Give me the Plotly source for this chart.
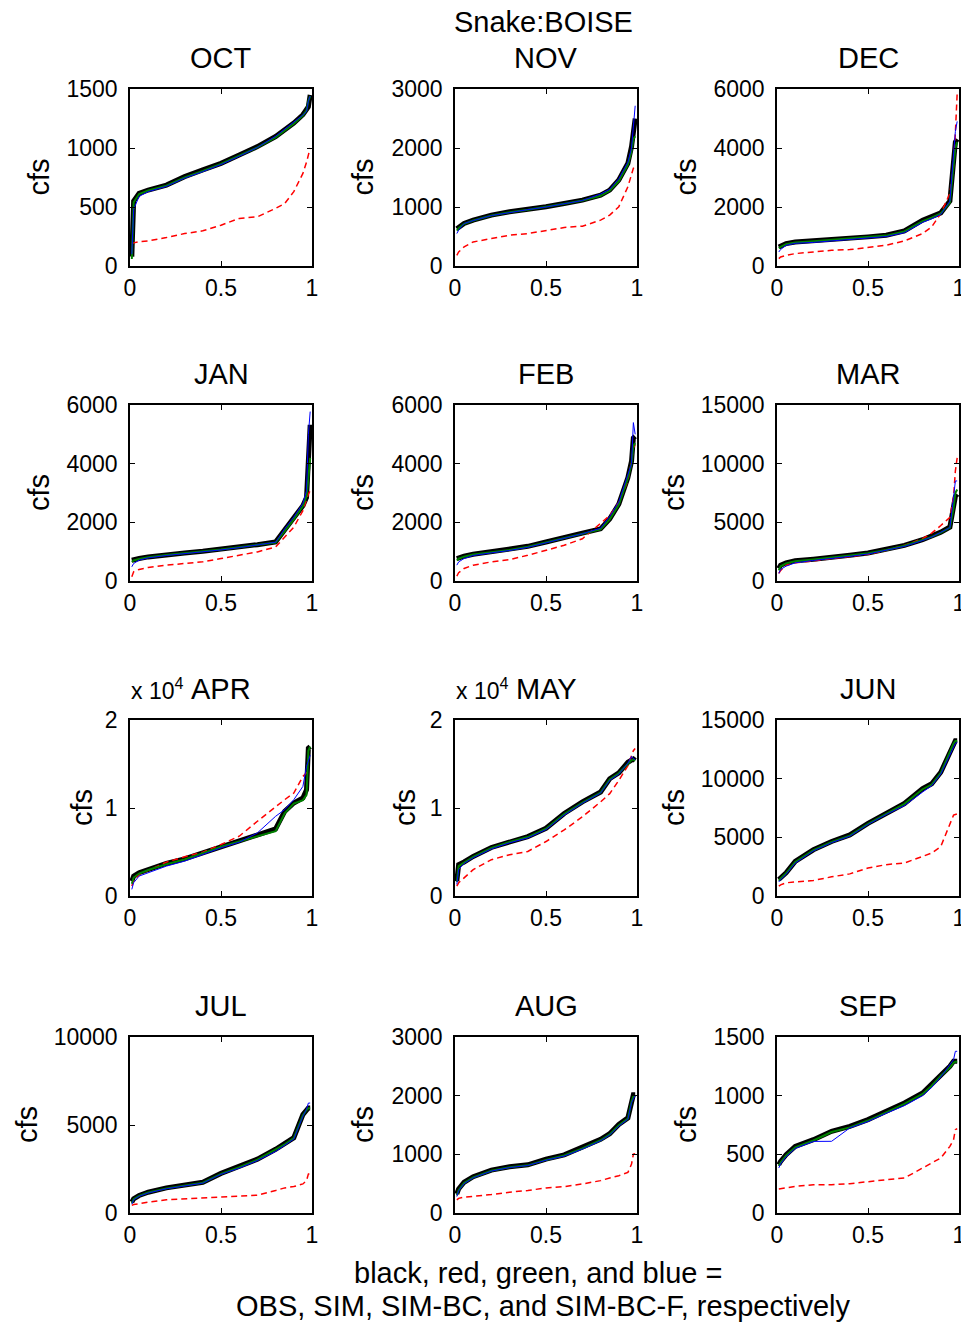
import plotly.graph_objects as go

# ---------------- data ----------------
MONTHS = ["OCT", "NOV", "DEC", "JAN", "FEB", "MAR", "APR", "MAY", "JUN", "JUL", "AUG", "SEP"]

# non-exceedance probability grid shared by all curves
PROB = [0.01, 0.02, 0.05, 0.1, 0.2, 0.3, 0.4, 0.5, 0.6, 0.7, 0.8, 0.85, 0.9, 0.95, 0.97, 0.98, 0.99]

# black = OBS
OBS = [
    [80, 550, 615, 644, 686, 757, 814, 870, 941, 1012, 1097, 1154, 1211, 1282, 1324, 1350, 1450],
    [630, 650, 720, 777, 862, 919, 958, 1004, 1060, 1117, 1202, 1287, 1457, 1741, 2025, 2250, 2500],
    [646, 669, 760, 816, 850, 896, 930, 987, 1043, 1190, 1554, 1667, 1800, 2200, 3500, 4200, 4300],
    [709, 730, 766, 822, 901, 957, 1013, 1081, 1160, 1239, 1329, 1723, 2117, 2567, 2849, 4425, 5326],
    [766, 790, 844, 912, 991, 1070, 1182, 1329, 1497, 1633, 1779, 2117, 2623, 3524, 4087, 4875, 4932],
    [1069, 1351, 1548, 1717, 1857, 1998, 2195, 2392, 2673, 3039, 3518, 3799, 4165, 4600, 6500, 7200, 7400],
    [1698, 2264, 2642, 3019, 3698, 4227, 4906, 5661, 6302, 6981, 7623, 9623, 10566, 11132, 12076, 16793, 16981],
    [1688, 3564, 3865, 4502, 5515, 6191, 6754, 7692, 9380, 10693, 11819, 13320, 13995, 15196, 15496, 15571, 15400],
    [1407, 1548, 1970, 2955, 3940, 4643, 5206, 6191, 7035, 7879, 9146, 9568, 10553, 12382, 13085, 13226, 13226],
    [619, 807, 994, 1182, 1426, 1557, 1745, 2251, 2626, 3058, 3621, 3940, 4277, 5590, 5872, 5966, 5966],
    [326, 411, 524, 619, 732, 788, 822, 918, 991, 1115, 1255, 1351, 1509, 1621, 1931, 2015, 2015],
    [412, 440, 497, 568, 625, 696, 739, 796, 867, 938, 1023, 1094, 1179, 1250, 1293, 1293, 1293],
]

# red = SIM
SIM = [
    [190, 196, 205, 213, 241, 275, 298, 346, 403, 417, 488, 530, 630, 785, 880, 940, 1000],
    [181, 238, 323, 408, 465, 522, 550, 607, 652, 675, 777, 862, 1004, 1344, 1571, 1656, 1713],
    [250, 306, 363, 420, 476, 533, 556, 624, 703, 850, 1100, 1327, 1780, 2461, 3368, 4502, 5863],
    [146, 315, 394, 462, 540, 597, 653, 766, 878, 991, 1160, 1497, 1835, 2398, 2792, 2961, 3074],
    [169, 281, 428, 540, 653, 732, 878, 1047, 1216, 1441, 1948, 2229, 2680, 3412, 4087, 4538, 4650],
    [647, 900, 1351, 1548, 1717, 1914, 2054, 2279, 2617, 3039, 3602, 4080, 4728, 5431, 7119, 9370, 10496],
    [1132, 1700, 2453, 2943, 3849, 4453, 4981, 5849, 6792, 8491, 10189, 10944, 11698, 13585, 14000, 14100, 14200],
    [1126, 1501, 2064, 3002, 4127, 4690, 5065, 6191, 7504, 9005, 10693, 11632, 13132, 14820, 15946, 16509, 16771],
    [844, 950, 1126, 1210, 1323, 1632, 1885, 2392, 2673, 2814, 3377, 3658, 4221, 6050, 6894, 6950, 7000],
    [431, 480, 525, 619, 750, 807, 863, 938, 976, 1013, 1276, 1426, 1501, 1651, 1839, 2214, 2250],
    [225, 250, 270, 281, 315, 355, 383, 428, 450, 495, 552, 597, 636, 692, 833, 1002, 1010],
    [205, 208, 213, 227, 241, 241, 250, 270, 284, 298, 384, 420, 469, 568, 625, 710, 720],
]

# green = SIM-BC
SIM_BC = [
    [60, 540, 610, 640, 680, 750, 805, 865, 935, 1005, 1090, 1145, 1205, 1275, 1320, 1400, 1440],
    [600, 640, 715, 770, 855, 912, 952, 998, 1055, 1110, 1190, 1275, 1440, 1720, 1950, 2150, 2200],
    [600, 650, 740, 800, 840, 885, 920, 975, 1030, 1170, 1520, 1640, 1780, 2150, 3300, 4000, 4200],
    [650, 700, 750, 810, 890, 945, 1000, 1070, 1150, 1225, 1310, 1700, 2100, 2550, 2900, 3500, 4200],
    [700, 760, 830, 900, 980, 1060, 1170, 1315, 1480, 1620, 1760, 2100, 2600, 3500, 4000, 4600, 4700],
    [900, 1250, 1500, 1680, 1830, 1970, 2170, 2370, 2650, 3000, 3480, 3760, 4130, 4550, 6200, 7500, 7800],
    [1400, 2100, 2550, 2950, 3600, 4150, 4850, 5600, 6200, 6792, 7358, 9400, 10500, 10900, 11500, 16500, 16981],
    [1600, 3400, 3800, 4450, 5450, 6150, 6700, 7650, 9300, 10600, 11750, 13250, 13950, 15100, 15450, 15500, 15400],
    [1300, 1500, 1930, 2900, 3900, 4600, 5150, 6150, 7000, 7850, 9100, 9500, 10500, 12300, 13000, 13200, 13200],
    [550, 780, 970, 1160, 1400, 1540, 1720, 2220, 2600, 3030, 3580, 3900, 4250, 5550, 5850, 5950, 5950],
    [300, 390, 510, 605, 720, 778, 812, 905, 980, 1100, 1240, 1340, 1495, 1610, 1900, 1990, 2000],
    [400, 430, 490, 560, 618, 690, 730, 788, 858, 930, 1015, 1085, 1170, 1240, 1280, 1290, 1290],
]

# blue = SIM-BC-F
SIM_BC_F = [
    [100, 480, 590, 630, 675, 745, 800, 860, 930, 1005, 1100, 1160, 1215, 1280, 1310, 1400, 1440],
    [550, 607, 720, 770, 855, 910, 955, 1000, 1050, 1110, 1220, 1300, 1480, 1760, 2000, 2400, 2716],
    [476, 560, 700, 770, 800, 850, 880, 940, 1000, 1130, 1480, 1600, 1750, 2200, 3600, 4560, 4900],
    [484, 597, 709, 790, 870, 930, 990, 1060, 1140, 1220, 1320, 1780, 2180, 2650, 3074, 4988, 5776],
    [540, 650, 766, 870, 960, 1040, 1150, 1300, 1470, 1610, 1800, 2200, 2700, 3600, 4000, 5400, 5000],
    [647, 985, 1266, 1550, 1750, 1900, 2100, 2300, 2600, 2950, 3450, 3750, 4150, 4550, 7119, 8526, 8526],
    [755, 1509, 2264, 2642, 3396, 3962, 4717, 5472, 6113, 7170, 9057, 9811, 10944, 12453, 14717, 15472, 16000],
    [1313, 3000, 3700, 4350, 5350, 6050, 6600, 7550, 9200, 10550, 11700, 13150, 13850, 15100, 15871, 15600, 15500],
    [1200, 1400, 1850, 2800, 3850, 4550, 5100, 6100, 6950, 7700, 8864, 9400, 10400, 12100, 12800, 13000, 13100],
    [500, 750, 950, 1140, 1380, 1520, 1700, 2200, 2550, 2980, 3500, 3850, 4200, 5500, 5900, 6247, 6247],
    [280, 380, 500, 600, 715, 775, 810, 900, 970, 1090, 1230, 1330, 1480, 1600, 1880, 1950, 2000],
    [384, 420, 480, 550, 610, 611, 725, 780, 850, 915, 1000, 1070, 1160, 1260, 1307, 1378, 1378],
]

# y-axis limits, tick step and tick-label divisor per month
Y_MAX = [1500, 3000, 6000, 6000, 6000, 15000, 20000, 20000, 15000, 10000, 3000, 1500]
Y_STEP = [500, 1000, 2000, 2000, 2000, 5000, 10000, 10000, 5000, 5000, 1000, 500]
Y_DIV = [1, 1, 1, 1, 1, 1, 10000, 10000, 1, 1, 1, 1]

X_TICKS = [0, 0.5, 1]
X_TICK_TEXT = ["0", "0.5", "1"]

SUPTITLE = "Snake:BOISE"
FOOT_1 = "black, red, green, and blue ="
FOOT_2 = "OBS, SIM, SIM-BC, and SIM-BC-F, respectively"

# ---------------- layout geometry (pixels of the page) ----------------
W, H = 961, 1326
COL_X = [(130, 312), (455, 637), (777, 959)]
ROW_Y = [(89, 266), (405, 581), (720, 896), (1037, 1213)]
CFS_X = [[39, 363, 686], [39, 363, 674], [82, 405, 674], [27, 363, 686]]

FONT = "Liberation Sans, Arial, Helvetica, sans-serif"
TICK_SIZE = 23
LABEL_SIZE = 29
INK = "#000000"

SERIES = [
    (OBS, "OBS", dict(color="#000000", width=5)),
    (SIM, "SIM", dict(color="#ff0000", width=1.5, dash="6px,4px")),
    (SIM_BC, "SIM-BC", dict(color="#008000", width=2)),
    (SIM_BC_F, "SIM-BC-F", dict(color="#0000ff", width=1)),
]


def px(x):
    return x / W


def py(y):
    return 1 - y / H


fig = go.Figure()
annotations = []
layout_axes = {}

for i, month in enumerate(MONTHS):
    r, c = divmod(i, 3)
    n = i + 1
    xname = "x" if n == 1 else f"x{n}"
    yname = "y" if n == 1 else f"y{n}"
    xkey = "xaxis" if n == 1 else f"xaxis{n}"
    ykey = "yaxis" if n == 1 else f"yaxis{n}"

    for data, name, line in SERIES:
        fig.add_trace(go.Scatter(
            x=PROB, y=data[i], mode="lines", name=name, line=line,
            xaxis=xname, yaxis=yname, showlegend=False, hoverinfo="skip",
        ))

    x0, x1 = COL_X[c]
    y0, y1 = ROW_Y[r]
    yvals = list(range(0, Y_MAX[i] + 1, Y_STEP[i]))
    ytext = [f"{v / Y_DIV[i]:g}" for v in yvals]

    common = dict(
        showline=True, linecolor=INK, linewidth=1.5, mirror="ticks",
        ticks="inside", ticklen=5, tickwidth=1, tickcolor=INK,
        showgrid=False, zeroline=False, automargin=False,
        tickfont=dict(family=FONT, size=TICK_SIZE, color=INK),
        ticklabeloverflow="allow", fixedrange=True,
    )
    layout_axes[xkey] = dict(
        common, domain=[px(x0), px(x1)], anchor=yname, range=[0, 1],
        tickmode="array", tickvals=X_TICKS, ticktext=X_TICK_TEXT,
        ticklabelstandoff=1,
    )
    layout_axes[ykey] = dict(
        common, domain=[py(y1), py(y0)], anchor=xname, range=[0, Y_MAX[i]],
        tickmode="array", tickvals=yvals, ticktext=ytext,
        ticklabelstandoff=6,
    )

    # panel title
    annotations.append(dict(
        text=month, x=px((x0 + x1) / 2), y=py(y0 - 31), xref="paper", yref="paper",
        xanchor="center", yanchor="middle", showarrow=False,
        font=dict(family=FONT, size=LABEL_SIZE, color=INK),
    ))
    # y label
    annotations.append(dict(
        text="cfs", x=px(CFS_X[r][c]), y=py((y0 + y1) / 2), xref="paper", yref="paper",
        xanchor="center", yanchor="middle", textangle=-90, showarrow=False,
        font=dict(family=FONT, size=LABEL_SIZE, color=INK),
    ))
    # exponent label
    if Y_DIV[i] != 1:
        annotations.append(dict(
            text="x 10<sup>4</sup>", x=px(x0 - 1), y=py(y0 - 14), xref="paper", yref="paper",
            xanchor="left", yanchor="bottom", showarrow=False,
            font=dict(family=FONT, size=23, color=INK),
        ))

annotations.append(dict(
    text=SUPTITLE, x=px(543), y=py(22), xref="paper", yref="paper",
    xanchor="center", yanchor="middle", showarrow=False,
    font=dict(family=FONT, size=LABEL_SIZE, color=INK),
))
annotations.append(dict(
    text=FOOT_1, x=px(538), y=py(1273), xref="paper", yref="paper",
    xanchor="center", yanchor="middle", showarrow=False,
    font=dict(family=FONT, size=LABEL_SIZE, color=INK),
))
annotations.append(dict(
    text=FOOT_2, x=px(543), y=py(1306), xref="paper", yref="paper",
    xanchor="center", yanchor="middle", showarrow=False,
    font=dict(family=FONT, size=LABEL_SIZE, color=INK),
))

fig.update_layout(
    width=W, height=H, template="none",
    margin=dict(l=0, r=0, t=0, b=0, pad=0),
    paper_bgcolor="white", plot_bgcolor="white",
    showlegend=False, annotations=annotations,
    **layout_axes,
)

# remove the browser's default page margin so the figure fills the window exactly
fig.write_html(
    "out.html", include_plotlyjs=True, config={"displayModeBar": False},
    post_script="document.body.style.margin='0';document.body.style.overflow='hidden';",
)
